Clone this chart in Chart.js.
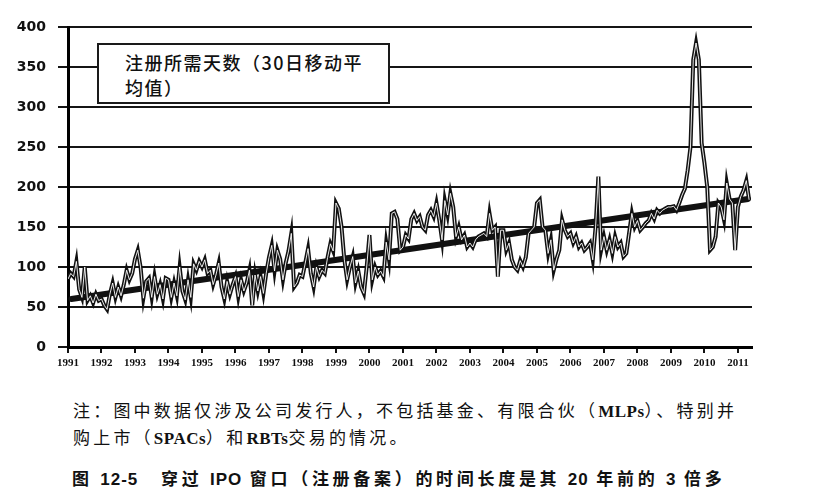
<!DOCTYPE html>
<html>
<head>
<meta charset="utf-8">
<script src="https://cdn.jsdelivr.net/npm/chart.js@4"></script>
<style>
  body { margin: 0; background: #fff; width: 834px; height: 502px; position: relative; overflow: hidden; }
  #wrap { position: absolute; left: 0; top: 0; width: 834px; height: 370px; }
  .legendbox {
    position: absolute; left: 97px; top: 43px; width: 293px; height: 61px;
    border: 2px solid #1a1a1a; background: #fff; box-sizing: border-box;
    font-family: "Noto Sans CJK SC"; font-weight: 500; font-size: 18px; line-height: 25px;
    padding: 5px 0 0 26px; color: #111; letter-spacing: 1.5px;
  }
  .note {
    position: absolute; left: 73px; top: 397px;
    font-family: "Noto Sans CJK SC"; font-size: 17px; line-height: 25px;
    letter-spacing: 3.2px; color: #111; white-space: nowrap;
  }
  .note .lat { font-family: "Liberation Serif"; font-weight: bold; letter-spacing: 0.5px; }
  .caption {
    position: absolute; left: 72px; top: 465px;
    font-family: "Noto Sans CJK SC"; font-weight: bold; font-size: 17px; line-height: 25px;
    letter-spacing: 3.7px; color: #111; white-space: nowrap;
  }
  .caption .lat { font-family: "Liberation Sans"; letter-spacing: 1px; }
</style>
</head>
<body>
<div id="wrap"><canvas id="line-chart" width="834" height="370"></canvas></div>
<div class="legendbox">注册所需天数（30日移动平<br>均值）</div>
<div class="note">注：图中数据仅涉及公司发行人，不包括基金、有限合伙（<span class="lat">MLPs</span>）、特别并<br>购上市（<span class="lat">SPACs</span>）和<span class="lat">RBTs</span>交易的情况。</div>
<div class="caption">图 <span class="lat">12-5</span>&nbsp;&nbsp; 穿过 <span class="lat">IPO</span> 窗口（注册备案）的时间长度是其 <span class="lat">20</span> 年前的 <span class="lat">3</span> 倍多</div>
<script>
// monthly values, Jan..Dec (days to register, 30-day moving average)
var v1991 = [85, 92, 88, 107, 72, 62, 100, 58, 64, 55, 66, 58];
var v1992 = [60, 52, 47, 66, 80, 62, 75, 64, 78, 96, 84, 92];
var v1993 = [110, 121, 100, 61, 82, 86, 62, 88, 66, 78, 60, 86];
var v1994 = [84, 62, 80, 64, 100, 70, 59, 84, 62, 104, 96, 107];
var v1995 = [100, 109, 92, 96, 78, 90, 105, 75, 60, 82, 66, 78];
var v1996 = [88, 63, 84, 70, 80, 96, 52, 90, 70, 88, 67, 92];
var v1997 = [112, 127, 95, 121, 110, 84, 105, 120, 142, 75, 80, 90];
var v1998 = [88, 105, 123, 92, 75, 100, 88, 96, 92, 112, 129, 120];
var v1999 = [180, 173, 150, 109, 84, 100, 113, 80, 95, 75, 67, 100];
var v2000 = [140, 84, 100, 90, 95, 88, 131, 109, 167, 169, 160, 121];
var v2001 = [125, 140, 135, 160, 167, 158, 163, 150, 146, 165, 171, 163];
var v2002 = [180, 159, 134, 183, 165, 192, 175, 138, 150, 134, 140, 125];
var v2003 = [130, 125, 134, 138, 140, 142, 138, 167, 146, 150, 88, 146];
var v2004 = [146, 121, 130, 109, 100, 96, 108, 100, 112, 142, 146, 150];
var v2005 = [180, 184, 150, 146, 117, 134, 96, 110, 121, 159, 146, 138];
var v2006 = [142, 130, 138, 125, 130, 121, 125, 130, 109, 150, 213, 121];
var v2007 = [138, 121, 134, 117, 138, 125, 130, 113, 117, 142, 167, 150];
var v2008 = [158, 146, 150, 155, 158, 167, 160, 171, 167, 171, 173, 175];
var v2009 = [175, 176, 171, 180, 190, 198, 221, 250, 359, 380, 359, 255];
var v2010 = [230, 200, 121, 125, 138, 180, 175, 159, 205, 185, 180, 121];
var v2011 = [175, 188, 196, 208, 184];

var years = [1991, 1992, 1993, 1994, 1995, 1996, 1997, 1998, 1999, 2000, 2001,
             2002, 2003, 2004, 2005, 2006, 2007, 2008, 2009, 2010, 2011];
var yearValues = [v1991, v1992, v1993, v1994, v1995, v1996, v1997, v1998, v1999, v2000, v2001,
                  v2002, v2003, v2004, v2005, v2006, v2007, v2008, v2009, v2010, v2011];

// trend line end points
var trendX = [1991.1, 2011.3];
var trendY = [60, 185];

var yTicks = [0, 50, 100, 150, 200, 250, 300, 350, 400];

var series = [];
years.forEach(function (yr, i) {
  yearValues[i].forEach(function (v, m) {
    series.push({ x: yr + m / 12, y: v });
  });
});
var trend = trendX.map(function (x, i) { return { x: x, y: trendY[i] }; });

var mychart = document.getElementById('line-chart');
var myLineChart = new Chart(mychart, {
  type: 'line',
  data: {
    datasets: [
      { data: series, borderColor: '#ffffff', borderWidth: 0.9, pointRadius: 0, tension: 0 },
      { data: series, borderColor: '#111111', borderWidth: 4, pointRadius: 0, tension: 0 },
      { data: trend, borderColor: '#111111', borderWidth: 6, pointRadius: 0, borderCapStyle: 'round' }
    ]
  },
  options: {
    responsive: false,
    animation: false,
    layout: { padding: { top: 27, right: 82, left: 0, bottom: 0 } },
    plugins: { legend: { display: false }, tooltip: { enabled: false } },
    scales: {
      x: {
        type: 'linear',
        min: 1991,
        max: 2011.42,
        afterBuildTicks: function (s) { s.ticks = years.map(function (v) { return { value: v }; }); },
        afterFit: function (s) { s.height = 23; },
        grid: { drawOnChartArea: false, drawTicks: true, tickLength: 6, color: '#111', lineWidth: 2 },
        border: { display: true, color: '#000', width: 3 },
        ticks: {
          autoSkip: false, maxRotation: 0, padding: 4, color: '#111',
          font: { family: 'Liberation Serif', weight: 'bold', size: 11 },
          callback: function (v) { return String(v); }
        }
      },
      y: {
        min: 0,
        max: 400,
        afterBuildTicks: function (s) { s.ticks = yTicks.map(function (v) { return { value: v }; }); },
        afterFit: function (s) { s.width = 68; },
        grid: { color: '#151515', lineWidth: 2, tickLength: 10 },
        border: { display: true, color: '#000', width: 3 },
        ticks: {
          padding: 12, color: '#111',
          font: { family: 'DejaVu Sans', weight: 'bold', size: 14 }
        }
      }
    }
  }
});
</script>
</body>
</html>
